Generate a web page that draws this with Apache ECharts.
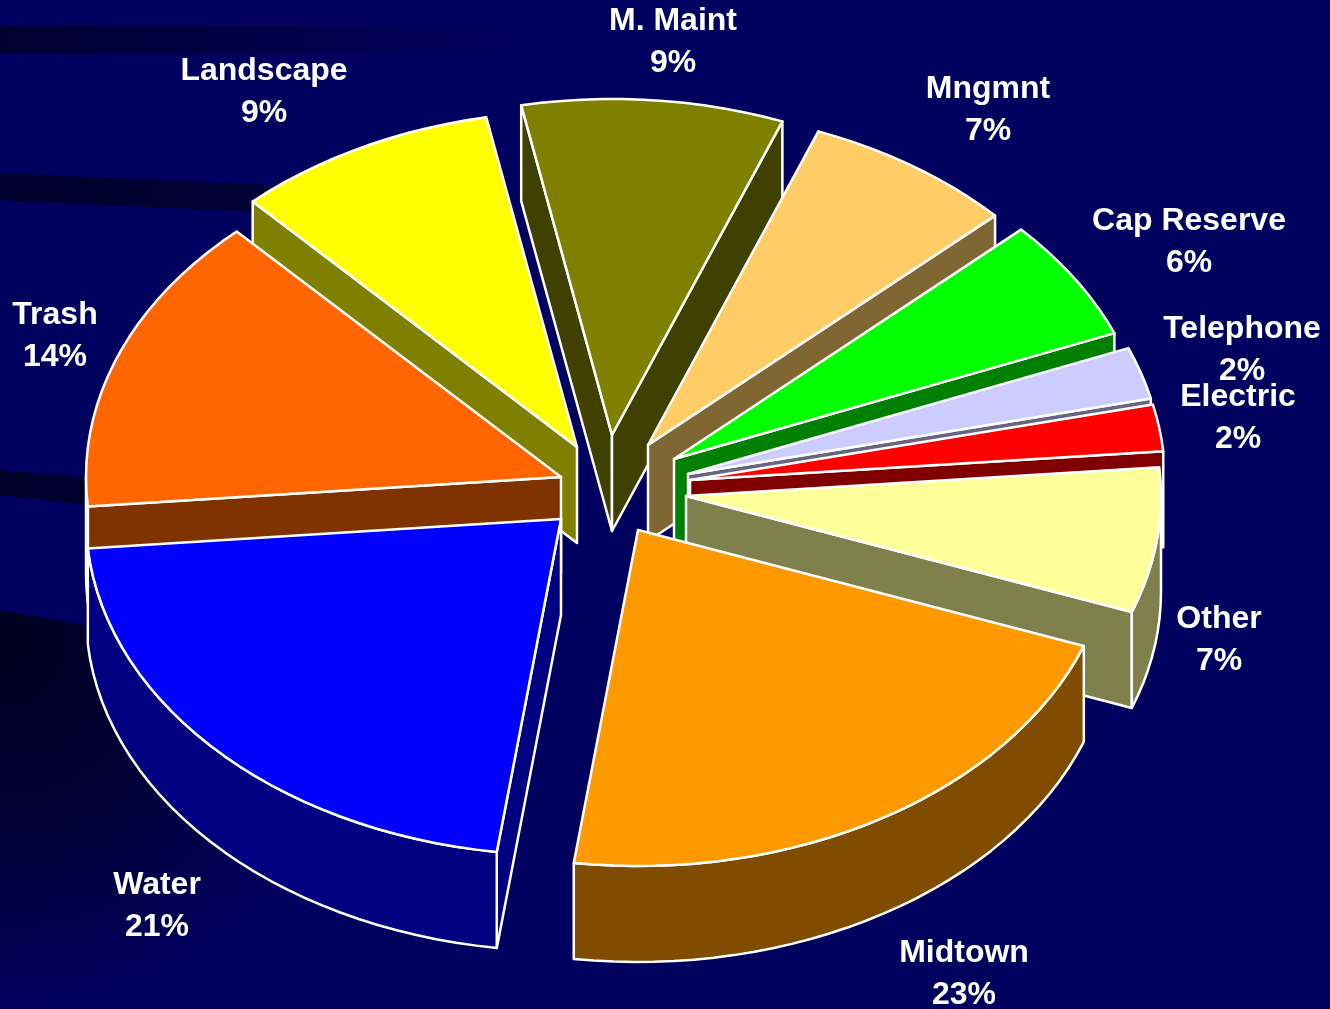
<!DOCTYPE html>
<html><head><meta charset="utf-8">
<style>html,body{margin:0;padding:0;background:#00005f}#c{width:1330px;height:1009px}</style>
<script src="https://cdn.jsdelivr.net/npm/echarts@6/dist/echarts.min.js"></script>
</head><body><div id="c"></div>
<script>
// ---- data (clockwise, as drawn) ----
const categories = ['Other','Midtown','Water','Trash','Landscape','M. Maint','Mngmnt','Cap Reserve','Telephone','Electric'];
const percentLabels = ['7%','23%','21%','14%','9%','9%','7%','6%','2%','2%'];
// share of the circle each slice actually occupies in the picture
const sliceShares = [6.97,21.55,21.44,14.44,8.9,8.9,7.2,5.85,2.5,2.25];

// ---- styling ----
const topColors  = ['#FFFF99','#FF9900','#0000FF','#FF6600','#FFFF00','#808000','#FFCC66','#00FF00','#CCCCFF','#FF0000'];
const sideColors = ['#80804D','#804D00','#000080','#803300','#808000','#404000','#806633','#008000','#666680','#800000'];

// ---- layout ----
const PIE = {cx:621, cy:481, rx:475, ry:336, depth:96, startDeg:4.9, stepDeg:2.5};
const explodeOffsets = [[65,15],[17,49],[-60,38],[-60,-4],[-44,-34],[-9,-46],[27,-36],[53,-22],[67,-7],[69,-1]];
const labelCenters = [[1219,640],[964,974],[157,906],[55,336],[264,92],[673,42],[988,110],[1189,242],[1242,350],[1238,418]];

const rad = d => d*Math.PI/180;
const total = sliceShares.reduce((a,b)=>a+b,0);
let cursor = PIE.startDeg;
const slices = sliceShares.map((v,i)=>{
  const a1 = cursor, a2 = cursor - v/total*360; cursor = a2;
  return {i,a1,a2,mid:(a1+a2)/2};
});
const order = slices.slice().sort((p,q)=>Math.sin(rad(q.mid))-Math.sin(rad(p.mid))).map(s=>s.i);

function renderSlice(params, api){
  const s = slices[api.value(0)];
  const ax = PIE.cx + explodeOffsets[s.i][0], ay = PIE.cy + explodeOffsets[s.i][1];
  const pt = (deg,dz)=>[ax+PIE.rx*Math.cos(rad(deg)), ay-PIE.ry*Math.sin(rad(deg))+(dz||0)];
  const line = {stroke:'#fff', lineWidth:2.5, lineJoin:'round'};
  const side = Object.assign({fill:sideColors[s.i]}, line);
  const top  = Object.assign({fill:topColors[s.i]}, line);
  const kids = [];
  const poly = (points,style)=>kids.push({type:'polygon',shape:{points},style});
  const d = PIE.depth;
  if (Math.cos(rad(s.a1))<0) { const p=pt(s.a1); poly([[ax,ay],p,[p[0],p[1]+d],[ax,ay+d]],side); }
  if (Math.cos(rad(s.a2))>0) { const p=pt(s.a2); poly([[ax,ay],p,[p[0],p[1]+d],[ax,ay+d]],side); }
  // outer wall: the part of the arc in the lower half of the ellipse
  const arcPts = (from,to)=>{ const o=[]; const n=Math.max(2,Math.ceil((from-to)/PIE.stepDeg));
    for(let k=0;k<=n;k++) o.push(from+(to-from)*k/n); return o; };
  for (const off of [0,-360]) {
    const from = Math.min(s.a1+off, 0), to = Math.max(s.a2+off, -180);
    if (from>to) {
      const a = arcPts(from,to);
      poly(a.map(x=>pt(x)).concat(a.slice().reverse().map(x=>pt(x,d))),side);
    }
  }
  poly([[ax,ay]].concat(arcPts(s.a1,s.a2).map(x=>pt(x))),top);
  return {type:'group',children:kids};
}
function renderLabel(params, api){
  const i = api.value(0);
  return {type:'text',style:{x:labelCenters[i][0],y:labelCenters[i][1],
    text:categories[i]+'\n'+percentLabels[i],fill:'#fff',
    font:'bold 32px "Liberation Sans", Arial, sans-serif',lineHeight:42,align:'center',verticalAlign:'middle'}};
}
const G = echarts.graphic;
const chart = echarts.init(document.getElementById('c'),null,{renderer:'canvas'});
const band = (points,left,right,x2)=>({type:'polygon',silent:true,z:-10,shape:{points},
  style:{fill:new G.LinearGradient(0,0,x2,0,[{offset:0,color:left},{offset:1,color:right}],true)}});
chart.setOption({
  backgroundColor:'#00005f',
  animation:false,
  graphic:[
    {type:'polygon',silent:true,z:-11,shape:{points:[[0,610],[90,626],[620,680],[620,1009],[0,1009]]},
      style:{fill:new G.RadialGradient(0,640,375,[{offset:0,color:'#000020'},{offset:0.5,color:'#000034'},{offset:1,color:'#00005f'}],true)}},
    band([[0,26],[540,26],[540,53],[0,53]],'#000030','#00005f',540),
    band([[0,173],[290,186],[260,212],[0,200]],'#00002c','#000035',290),
    band([[0,470],[90,478],[90,505],[0,495]],'#00002a','#000030',90)
  ],
  series:[
    {type:'custom',coordinateSystem:'none',silent:true,renderItem:renderSlice,z:2,data:order.map(i=>[i])},
    {type:'custom',coordinateSystem:'none',silent:true,renderItem:renderLabel,z:3,data:categories.map((c,i)=>[i])}
  ]
});
</script></body></html>
